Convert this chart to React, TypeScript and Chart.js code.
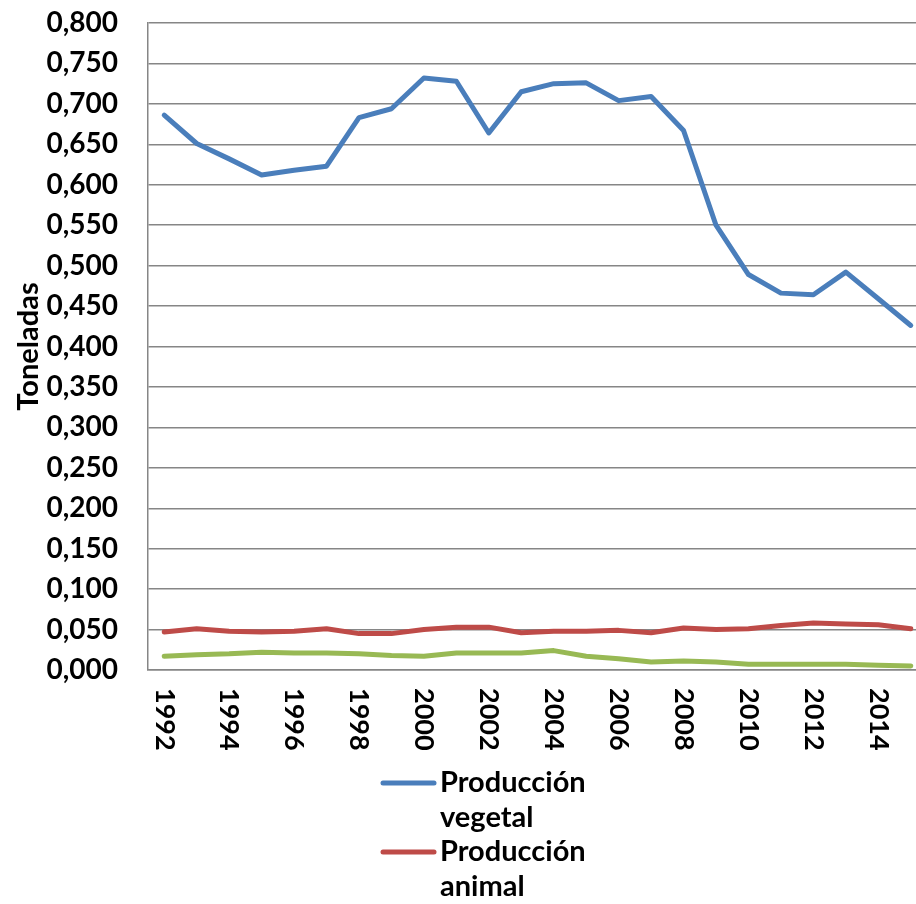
import React, { useEffect, useRef } from "react";
import { Chart, registerables } from "chart.js";

Chart.register(...registerables);

const years = [
  "1992", "1993", "1994", "1995", "1996", "1997", "1998", "1999", "2000", "2001", "2002", "2003",
  "2004", "2005", "2006", "2007", "2008", "2009", "2010", "2011", "2012", "2013", "2014", "2015",
];

const vegetal = [
  0.686, 0.651, 0.632, 0.612, 0.618, 0.623, 0.683, 0.694, 0.732, 0.728, 0.664, 0.715,
  0.725, 0.726, 0.704, 0.709, 0.667, 0.55, 0.489, 0.466, 0.464, 0.492, 0.459, 0.426,
];

const animal = [
  0.047, 0.051, 0.048, 0.047, 0.048, 0.051, 0.045, 0.045, 0.05, 0.053, 0.053, 0.046,
  0.048, 0.048, 0.049, 0.046, 0.052, 0.05, 0.051, 0.055, 0.058, 0.057, 0.056, 0.051,
];

const otros = [
  0.017, 0.019, 0.02, 0.022, 0.021, 0.021, 0.02, 0.018, 0.017, 0.021, 0.021, 0.021,
  0.024, 0.017, 0.014, 0.01, 0.011, 0.01, 0.007, 0.007, 0.007, 0.007, 0.006, 0.005,
];

const seriesNames = ["Producción vegetal", "Producción animal", "Otros"];
const legendLines = [["Producción", "vegetal"], ["Producción", "animal"]];
const colors = ["#4A7EBB", "#BE4B48", "#98B954"];
const yTitle = "Toneladas";

const FONT = "Lato, 'DejaVu Sans', sans-serif";

const overlayPlugin = {
  id: "overlay",
  afterDraw(chart: any) {
    const ctx = chart.ctx;
    const xs = chart.scales.x;
    ctx.save();
    ctx.fillStyle = "#000";
    ctx.font = `bold 27px ${FONT}`;
    ctx.textAlign = "left";
    ctx.textBaseline = "middle";
    years.forEach((label, i) => {
      if (i % 2 !== 0) return;
      const x = xs.getPixelForValue(i);
      ctx.save();
      ctx.translate(x, 688);
      ctx.rotate(Math.PI / 2);
      ctx.fillText(label, 0, 0);
      ctx.restore();
    });
    // legend
    ctx.font = `bold 29px ${FONT}`;
    const baseY = [783, 852];
    legendLines.forEach((lines, k) => {
      const y = baseY[k];
      ctx.strokeStyle = colors[k];
      ctx.lineWidth = 5;
      ctx.lineCap = "round";
      ctx.beginPath();
      ctx.moveTo(383, y);
      ctx.lineTo(434, y);
      ctx.stroke();
      ctx.fillStyle = "#000";
      lines.forEach((t, j) => {
        ctx.fillText(t, 440, y + j * 35);
      });
    });
    ctx.restore();
  },
};

export default function App() {
  const ref = useRef<HTMLCanvasElement | null>(null);
  useEffect(() => {
    if (!ref.current) return;
    const data = [vegetal, animal, otros];
    const chart = new Chart(ref.current, {
      type: "line",
      data: {
        labels: years,
        datasets: data.map((d, i) => ({
          label: seriesNames[i],
          data: d,
          borderColor: colors[i],
          backgroundColor: colors[i],
          borderWidth: 5,
          pointRadius: 0,
          tension: 0,
          fill: false,
          borderCapStyle: "round" as const,
          borderJoinStyle: "round" as const,
        })),
      },
      options: {
        responsive: false,
        animation: false,
        devicePixelRatio: 1,
        layout: { padding: { left: 0, top: 23, right: 5, bottom: 234 } },
        plugins: { legend: { display: false }, tooltip: { enabled: false } },
        scales: {
          x: {
            type: "category",
            offset: true,
            grid: { display: false, drawTicks: false },
            border: { display: true, color: "#868686", width: 1.5 },
            ticks: { display: false },
            afterFit: (s: any) => {
              s.height = 0;
            },
          },
          y: {
            min: 0,
            max: 0.8,
            grid: {
              color: "#868686",
              lineWidth: 1.5,
              drawTicks: true,
              tickLength: 27,
              tickColor: "rgba(0,0,0,0)",
            },
            border: { display: true, color: "#868686", width: 1.5 },
            ticks: {
              stepSize: 0.05,
              padding: 3,
              color: "#000",
              font: { family: FONT, size: 28, weight: "bold" },
              callback: (v: any) => Number(v).toFixed(3).replace(".", ","),
            },
            title: {
              display: true,
              text: yTitle,
              color: "#000",
              font: { family: FONT, size: 29, weight: "bold" },
              padding: { top: 11, bottom: 0 },
            },
            afterFit: (s: any) => {
              s.width = 148;
            },
          },
        },
      },
      plugins: [overlayPlugin],
    });
    return () => chart.destroy();
  }, []);
  return (
    <div style={{ position: "fixed", left: 0, top: 0, width: 916, height: 904, overflow: "hidden", background: "#fff" }}>
      <canvas ref={ref} width={932} height={904} style={{ display: "block" }} />
    </div>
  );
}
